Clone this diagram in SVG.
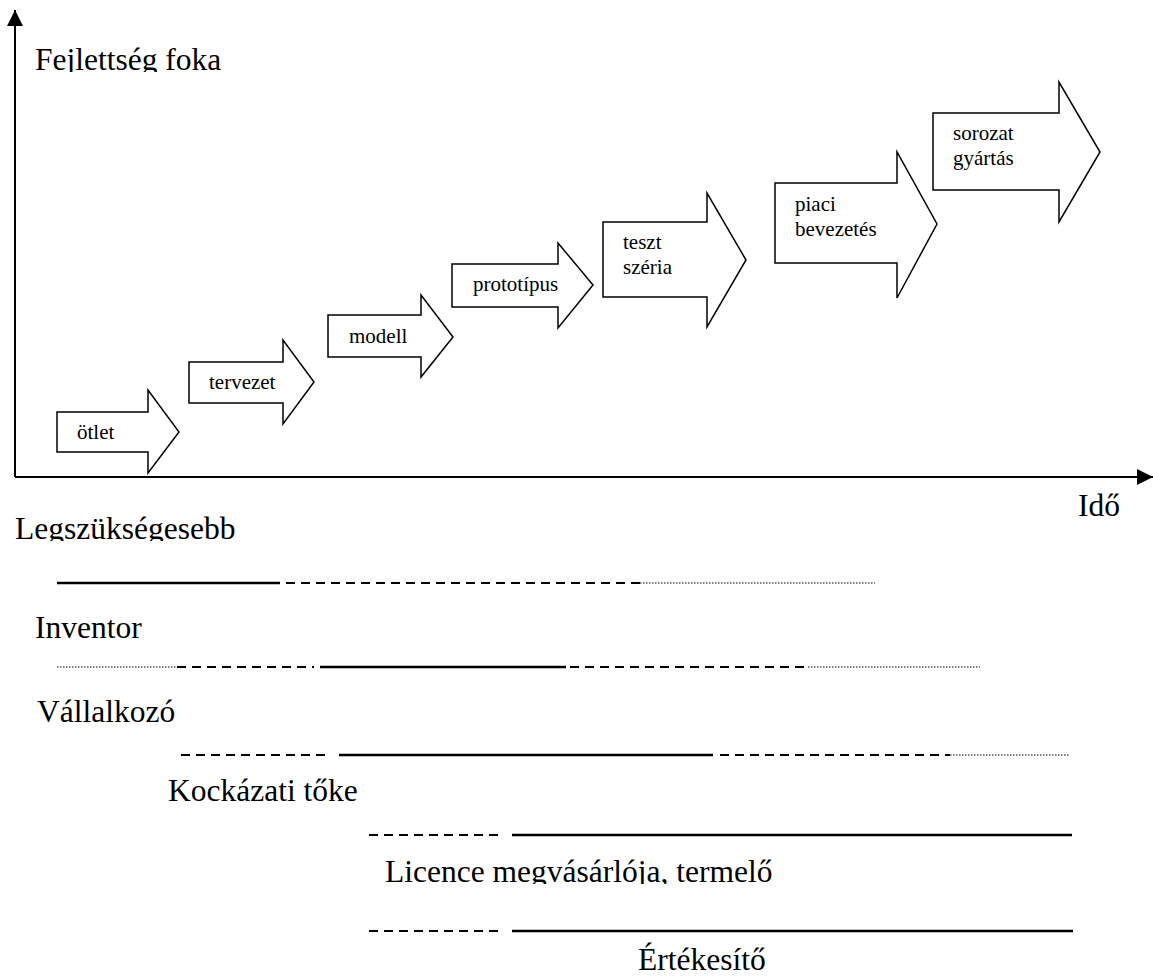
<svg xmlns="http://www.w3.org/2000/svg" width="1153" height="979" viewBox="0 0 1153 979">
<defs>
<style>
.lbl{font-family:"Liberation Serif","Times New Roman",serif;font-size:31.5px;fill:#000}
.alb{font-family:"Liberation Serif","Times New Roman",serif;font-size:21px;fill:#000}
.arr{fill:#fff;stroke:#000;stroke-width:1.5;stroke-linejoin:miter}
.axis{stroke:#000;stroke-width:2;fill:none}
.solid{stroke:#000;stroke-width:2.5}
.dash{stroke:#000;stroke-width:2;stroke-dasharray:9 6}
.dot{stroke:#000;stroke-width:1.2;stroke-dasharray:1.5 1.5}
</style>
<marker id="ah" viewBox="0 0 16 16" refX="16" refY="8" markerWidth="16" markerHeight="16" orient="auto" markerUnits="userSpaceOnUse">
<path d="M0,0 L16,8 L0,16 Z" fill="#000"/>
</marker>
<clipPath id="c1"><rect x="0" y="0" width="400" height="72"/></clipPath>
<clipPath id="c2"><rect x="0" y="500" width="400" height="41"/></clipPath>
<clipPath id="c3"><rect x="350" y="850" width="600" height="34"/></clipPath>
</defs>
<rect width="1153" height="979" fill="#fff"/>
<g id="axes">
<line class="axis" x1="15" y1="477" x2="15" y2="10" marker-end="url(#ah)"/>
<line class="axis" x1="15" y1="477" x2="1153" y2="477" marker-end="url(#ah)"/>
<text class="lbl" x="35" y="70" clip-path="url(#c1)">Fejlettség foka</text>
<text class="lbl" x="1078" y="516">Idő</text>
</g>
<g id="stage-otlet">
<polygon class="arr" points="57,412 148,412 148,390 179,432 148,473 148,452 57,452"/>
<text class="alb" x="77" y="439">ötlet</text>
</g>
<g id="stage-tervezet">
<polygon class="arr" points="189,362 283,362 283,340 314,382 283,424 283,403 189,403"/>
<text class="alb" x="209" y="389">tervezet</text>
</g>
<g id="stage-modell">
<polygon class="arr" points="328,315 421,315 421,295 453,337 421,377 421,357 328,357"/>
<text class="alb" x="349" y="343">modell</text>
</g>
<g id="stage-prototipus">
<polygon class="arr" points="452,264 558,264 558,243 593,285 558,328 558,307 452,307"/>
<text class="alb" x="473" y="291">prototípus</text>
</g>
<g id="stage-teszt">
<polygon class="arr" points="603,222 707,222 707,193 746,260 707,327 707,297 603,297"/>
<text class="alb" x="623" y="249">teszt</text>
<text class="alb" x="623" y="274">széria</text>
</g>
<g id="stage-piaci">
<polygon class="arr" points="775,183 897,183 897,152 937,224 897,298 897,263 775,263"/>
<text class="alb" x="795" y="211">piaci</text>
<text class="alb" x="795" y="236">bevezetés</text>
</g>
<g id="stage-sorozat">
<polygon class="arr" points="933,113 1059,113 1059,82 1100,152 1059,222 1059,190 933,190"/>
<text class="alb" x="953" y="140">sorozat</text>
<text class="alb" x="953" y="165">gyártás</text>
</g>
<g id="roles">
<text class="lbl" x="15" y="539" clip-path="url(#c2)">Legszükségesebb</text>
<text class="lbl" x="35" y="638">Inventor</text>
<text class="lbl" x="37" y="722">Vállalkozó</text>
<text class="lbl" x="168" y="801">Kockázati tőke</text>
<text class="lbl" x="385" y="882" clip-path="url(#c3)">Licence megvásárlója, termelő</text>
<text class="lbl" x="638" y="970">Értékesítő</text>
</g>
<g id="connectors">
<line class="solid" x1="57" y1="583" x2="280" y2="583"/>
<line class="dash" x1="286" y1="583" x2="640" y2="583"/>
<line class="dot" x1="640" y1="583" x2="875" y2="583"/>
<line class="dot" x1="57" y1="667" x2="176" y2="667"/>
<line class="dash" x1="177" y1="667" x2="314" y2="667"/>
<line class="solid" x1="320" y1="667" x2="566" y2="667"/>
<line class="dash" x1="570" y1="667" x2="804" y2="667"/>
<line class="dot" x1="808" y1="667" x2="980" y2="667"/>
<line class="dash" x1="181" y1="755" x2="330" y2="755"/>
<line class="solid" x1="339" y1="755" x2="713" y2="755"/>
<line class="dash" x1="720" y1="755" x2="950" y2="755"/>
<line class="dot" x1="950" y1="755" x2="1070" y2="755"/>
<line class="dash" x1="369" y1="835" x2="503" y2="835"/>
<line class="solid" x1="512" y1="835" x2="1072" y2="835"/>
<line class="dash" x1="369" y1="931" x2="503" y2="931"/>
<line class="solid" x1="512" y1="931" x2="1073" y2="931"/>
</g>
</svg>
